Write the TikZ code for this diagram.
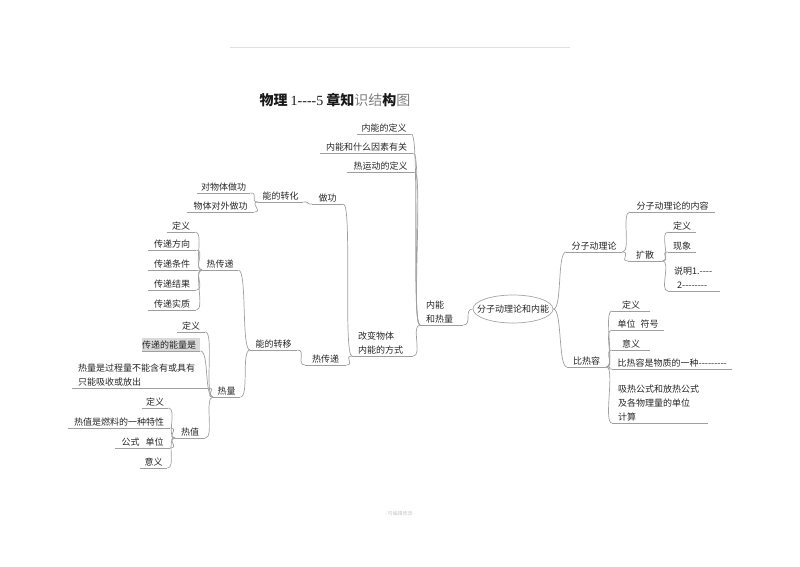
\documentclass[tikz,border=0pt]{standalone}
\usepackage{fontspec}
\newfontfamily\cjk{Noto Sans CJK SC}
\newfontfamily\numfont{Liberation Serif}
\usetikzlibrary{shapes.geometric}
\newcommand{\ind}{\hspace*{6pt}}

\begin{document}
\begin{tikzpicture}[x=1pt,y=-1pt]
  \tikzset{TopicStyle/.style = {
    anchor        = south west,
    inner xsep    = 0pt,
    inner ysep    = 2pt,
    align         = center,
    text width    = #1pt,
    text          = black!85,
    font          = \cjk\fontsize{9}{14}\selectfont
    }
  }
  \tikzset{RootStyle/.style = {
    shape         = ellipse,
    draw          = gray!70,
    line width    = 0.7pt,
    inner xsep    = -10pt,
    inner ysep    = 0pt,
    minimum width = 80pt,
    minimum height= 28pt,
    text          = black!85,
    font          = \cjk\fontsize{9}{14}\selectfont
    }
  }
  \tikzset{EdgeStyle/.style = {
    draw          = gray!75,
    line width    = 0.7pt
    }
  }
  \tikzset{LinkL/.style = {to path={.. controls +(-9,0) and +(9,0) .. (\tikztotarget)}}}
  \tikzset{LinkR/.style = {to path={.. controls +(9,0) and +(-9,0) .. (\tikztotarget)}}}

  \useasboundingbox (0,0) rectangle (800,566);
  \draw[gray!25, line width=0.8pt] (230,47) -- (570,47);

  \node[font=\cjk\fontsize{14}{16}\selectfont, text=black!90] (Title) at (335,100)
    {{\bfseries 物理} {\numfont 1----5} {\bfseries 章知}{\color{gray}识结}{\bfseries 构}{\color{gray}图}};
  \node[font=\cjk\fontsize{5}{6}\selectfont, text=gray!45] (Foot) at (400,514) {-可编辑修改-};

  % root
  \node[RootStyle] (Root) at (513,309) {分子动理论和内能};

  % left: 内能和热量
  \node[TopicStyle=43, align=left] (NeiNeng) at (420,325) {\ind 内能\\\ind 和热量};
  \node[TopicStyle=54] (NNdef) at (357,134) {内能的定义};
  \node[TopicStyle=93] (NNfactor) at (320,153) {内能和什么因素有关};
  \node[TopicStyle=67] (NNthermal) at (347,172) {热运动的定义};
  \node[TopicStyle=61, align=left] (GaiBian) at (352,356) {\ind 改变物体\\\ind 内能的方式};
  \node[TopicStyle=31] (ZuoGong) at (312,204) {做功};
  \node[TopicStyle=41] (ReChuanB) at (305,365) {热传递};
  \node[TopicStyle=45] (ZhuanHua) at (258,202) {能的转化};
  \node[TopicStyle=53] (DuiWuTi) at (197,193) {对物体做功};
  \node[TopicStyle=67] (WuTiDuiWai) at (187,212) {物体对外做功};
  \node[TopicStyle=47] (ZhuanYi) at (250,350) {能的转移};
  \node[TopicStyle=36] (ReChuanA) at (202,270) {热传递};
  \node[TopicStyle=27] (ReLiang) at (213,397) {热量};
  \node[TopicStyle=28] (RCdef) at (167,232) {定义};
  \node[TopicStyle=48] (RCdir) at (148,250) {传递方向};
  \node[TopicStyle=48] (RCcond) at (148,270) {传递条件};
  \node[TopicStyle=48] (RCres) at (148,290) {传递结果};
  \node[TopicStyle=48] (RCess) at (148,310) {传递实质};
  \node[TopicStyle=28] (RLdef) at (177,332) {定义};
  \node[TopicStyle=58, align=left, fill=gray!30] (RLenergy) at (142,351) {传递的能量是};
  \node[TopicStyle=136, align=left] (RLproc) at (72,388) {\ind 热量是过程量不能含有或具有\\\ind 只能吸收或放出};
  \node[TopicStyle=30] (ReZhi) at (175,438) {热值};
  \node[TopicStyle=26] (RZdef) at (142,408) {定义};
  \node[TopicStyle=102] (RZprop) at (68,428) {热值是燃料的一种特性};
  \node[TopicStyle=55] (RZformula) at (115,448) {公式\hspace{6pt}单位};
  \node[TopicStyle=27] (RZmean) at (140,468) {意义};

  % right: 分子动理论, 比热容
  \node[TopicStyle=56] (FenZi) at (566,252) {分子动理论};
  \node[TopicStyle=39] (BiRe) at (567,367) {比热容};
  \node[TopicStyle=85] (FZcontent) at (630,212) {分子动理论的内容};
  \node[TopicStyle=34] (KuoSan) at (628,261) {扩散};
  \node[TopicStyle=28] (KSdef) at (668,232) {定义};
  \node[TopicStyle=28] (KSphen) at (668,252) {现象};
  \node[TopicStyle=52, align=left] (KSexpl) at (668,291) {\ind 说明1.----\\\ind\hspace*{3pt}2--------};
  \node[TopicStyle=38] (BRdef) at (612,311) {定义};
  \node[TopicStyle=52] (BRunit) at (612,330) {单位\hspace{5pt}符号};
  \node[TopicStyle=38] (BRmean) at (612,350) {意义};
  \node[TopicStyle=120] (BRprop) at (612,369) {比热容是物质的一种---------};
  \node[TopicStyle=96, align=left] (BRcalc) at (612,423) {\ind 吸热公式和放热公式\\\ind 及各物理量的单位\\\ind 计算};

  % underlines
  \foreach \n in {NeiNeng,NNdef,NNfactor,NNthermal,GaiBian,ZuoGong,ReChuanB,ZhuanHua,
      DuiWuTi,WuTiDuiWai,ZhuanYi,ReChuanA,ReLiang,RCdef,RCdir,RCcond,RCres,RCess,
      RLdef,RLenergy,RLproc,ReZhi,RZdef,RZprop,RZformula,RZmean,FenZi,BiRe,FZcontent,
      KuoSan,KSdef,KSphen,KSexpl,BRdef,BRunit,BRmean,BRprop,BRcalc}
    \draw[EdgeStyle] (\n.south west) -- (\n.south east);

  % connectors
  \draw[EdgeStyle] (Root.west) to[LinkL] (NeiNeng.south east);
  \draw[EdgeStyle] (Root.east) to[LinkR] (FenZi.south west);
  \draw[EdgeStyle] (Root.east) to[LinkR] (BiRe.south west);
  \foreach \p/\c in {NeiNeng/NNdef,NeiNeng/NNfactor,NeiNeng/NNthermal,NeiNeng/GaiBian,
      GaiBian/ZuoGong,GaiBian/ReChuanB,ZuoGong/ZhuanHua,ZhuanHua/DuiWuTi,ZhuanHua/WuTiDuiWai,
      ReChuanB/ZhuanYi,ZhuanYi/ReChuanA,ZhuanYi/ReLiang,
      ReChuanA/RCdef,ReChuanA/RCdir,ReChuanA/RCcond,ReChuanA/RCres,ReChuanA/RCess,
      ReLiang/RLdef,ReLiang/RLenergy,ReLiang/RLproc,ReLiang/ReZhi,
      ReZhi/RZdef,ReZhi/RZprop,ReZhi/RZformula,ReZhi/RZmean}
    \draw[EdgeStyle] (\p.south west) to[LinkL] (\c.south east);
  \foreach \p/\c in {FenZi/FZcontent,FenZi/KuoSan,KuoSan/KSdef,KuoSan/KSphen,KuoSan/KSexpl,
      BiRe/BRdef,BiRe/BRunit,BiRe/BRmean,BiRe/BRprop,BiRe/BRcalc}
    \draw[EdgeStyle] (\p.south east) to[LinkR] (\c.south west);
\end{tikzpicture}
\end{document}
